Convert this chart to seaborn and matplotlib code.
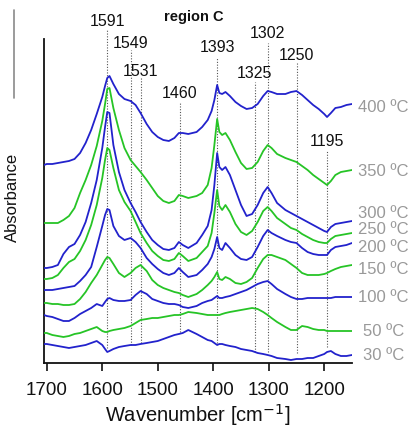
import matplotlib
matplotlib.use("Agg")
import matplotlib.pyplot as plt
import seaborn as sns
import pandas as pd
from matplotlib.lines import Line2D

# ---------------- data ----------------
wavenumber = [1705, 1700, 1690, 1680, 1670, 1660, 1650, 1640, 1630, 1620,
              1610, 1600, 1595, 1591, 1587, 1580, 1570, 1560, 1549, 1540,
              1531, 1520, 1510, 1500, 1490, 1480, 1470, 1462, 1455, 1445,
              1430, 1420, 1410, 1403, 1398, 1393, 1389, 1384, 1378, 1370,
              1360, 1350, 1340, 1330, 1320, 1310, 1302, 1295, 1285, 1270,
              1260, 1250, 1240, 1230, 1220, 1210, 1200, 1195, 1188, 1180,
              1170, 1160, 1150]

temperatures = ["30 ºC", "50 ºC", "100 ºC", "150 ºC", "200 ºC",
                "250 ºC", "300 ºC", "350 ºC", "400 ºC"]

abs_30 = [0.19, 0.19, 0.18, 0.17, 0.16, 0.15, 0.16, 0.17, 0.18, 0.20,
          0.22, 0.18, 0.14, 0.11, 0.12, 0.14, 0.16, 0.17, 0.18, 0.18,
          0.19, 0.20, 0.21, 0.22, 0.24, 0.26, 0.28, 0.29, 0.30, 0.33,
          0.29, 0.26, 0.23, 0.22, 0.20, 0.18, 0.19, 0.19, 0.18, 0.17,
          0.16, 0.14, 0.13, 0.12, 0.10, 0.09, 0.08, 0.07, 0.05, 0.04,
          0.03, 0.04, 0.04, 0.05, 0.05, 0.07, 0.09, 0.11, 0.12, 0.09,
          0.07, 0.07, 0.08]
abs_50 = [0.30, 0.30, 0.28, 0.27, 0.26, 0.27, 0.29, 0.30, 0.32, 0.34,
          0.36, 0.32, 0.31, 0.31, 0.32, 0.33, 0.34, 0.35, 0.37, 0.40,
          0.43, 0.44, 0.45, 0.45, 0.46, 0.47, 0.48, 0.48, 0.49, 0.51,
          0.50, 0.49, 0.48, 0.48, 0.48, 0.48, 0.48, 0.49, 0.50, 0.51,
          0.52, 0.53, 0.54, 0.55, 0.54, 0.51, 0.48, 0.45, 0.41, 0.36,
          0.33, 0.33, 0.37, 0.36, 0.34, 0.33, 0.33, 0.32, 0.32, 0.32,
          0.32, 0.32, 0.32]
abs_100 = [0.48, 0.47, 0.46, 0.44, 0.42, 0.42, 0.45, 0.49, 0.52, 0.55,
           0.59, 0.57, 0.61, 0.64, 0.65, 0.63, 0.62, 0.62, 0.63, 0.68,
           0.72, 0.69, 0.64, 0.62, 0.60, 0.59, 0.59, 0.58, 0.56, 0.55,
           0.57, 0.60, 0.62, 0.63, 0.65, 0.67, 0.65, 0.65, 0.66, 0.67,
           0.69, 0.71, 0.73, 0.76, 0.79, 0.81, 0.82, 0.79, 0.74, 0.69,
           0.66, 0.64, 0.64, 0.65, 0.65, 0.65, 0.65, 0.65, 0.65, 0.66,
           0.66, 0.66, 0.66]
abs_150 = [0.60, 0.60, 0.59, 0.59, 0.58, 0.58, 0.59, 0.64, 0.71, 0.80,
           0.88, 0.98, 1.03, 1.06, 1.05, 0.99, 0.90, 0.86, 0.90, 0.95,
           0.98, 0.92, 0.83, 0.78, 0.75, 0.73, 0.71, 0.70, 0.68, 0.66,
           0.69, 0.73, 0.78, 0.82, 0.86, 0.91, 0.84, 0.83, 0.86, 0.84,
           0.80, 0.79, 0.81, 0.85, 0.95, 1.04, 1.08, 1.08, 1.06, 1.03,
           0.99, 0.95, 0.90, 0.88, 0.88, 0.88, 0.89, 0.90, 0.92, 0.94,
           0.96, 0.97, 0.98]
abs_200 = [0.73, 0.73, 0.73, 0.74, 0.75, 0.76, 0.77, 0.82, 0.88, 0.96,
           1.16, 1.37, 1.48, 1.54, 1.53, 1.37, 1.27, 1.23, 1.25, 1.21,
           1.15, 1.05, 0.99, 0.94, 0.90, 0.88, 0.90, 0.95, 0.91, 0.86,
           0.88, 0.93, 0.99, 1.06, 1.14, 1.26, 1.15, 1.13, 1.20, 1.15,
           1.08, 1.04, 1.03, 1.06, 1.16, 1.27, 1.33, 1.30, 1.27, 1.23,
           1.21, 1.20, 1.15, 1.11, 1.09, 1.08, 1.08, 1.08, 1.13, 1.16,
           1.17, 1.18, 1.20]
abs_250 = [0.84, 0.84, 0.85, 0.88, 0.95, 1.01, 1.04, 1.12, 1.23, 1.38,
           1.58, 1.85, 2.03, 2.15, 2.13, 1.95, 1.73, 1.61, 1.52, 1.41,
           1.30, 1.20, 1.12, 1.07, 1.03, 1.02, 1.04, 1.10, 1.07, 1.02,
           1.05, 1.11, 1.17, 1.30, 1.50, 1.73, 1.57, 1.53, 1.58, 1.51,
           1.39, 1.31, 1.28, 1.32, 1.41, 1.52, 1.56, 1.52, 1.45, 1.39,
           1.35, 1.33, 1.29, 1.26, 1.23, 1.21, 1.20, 1.20, 1.24, 1.27,
           1.28, 1.29, 1.30]
abs_300 = [0.95, 0.95, 0.96, 0.98, 1.09, 1.16, 1.19, 1.28, 1.41, 1.60,
           1.83, 2.15, 2.36, 2.51, 2.50, 2.18, 1.91, 1.73, 1.60, 1.51,
           1.41, 1.31, 1.23, 1.18, 1.14, 1.13, 1.15, 1.21, 1.18, 1.15,
           1.20, 1.28, 1.37, 1.53, 1.78, 2.10, 1.96, 1.93, 1.96, 1.88,
           1.73, 1.58, 1.47, 1.49, 1.58, 1.70, 1.76, 1.70, 1.60, 1.53,
           1.50, 1.47, 1.44, 1.41, 1.38, 1.35, 1.32, 1.31, 1.36, 1.39,
           1.40, 1.41, 1.42]
abs_350 = [1.40, 1.40, 1.40, 1.40, 1.43, 1.47, 1.55, 1.70, 1.83, 1.98,
           2.17, 2.42, 2.59, 2.74, 2.75, 2.55, 2.33, 2.15, 2.03, 1.97,
           1.91, 1.83, 1.75, 1.67, 1.62, 1.60, 1.62, 1.68, 1.67, 1.65,
           1.67, 1.70, 1.78, 1.95, 2.18, 2.44, 2.31, 2.28, 2.30, 2.23,
           2.11, 2.00, 1.94, 1.95, 2.01, 2.12, 2.18, 2.15, 2.09, 2.05,
           2.03, 2.01, 1.97, 1.93, 1.88, 1.84, 1.80, 1.78, 1.82, 1.88,
           1.91, 1.92, 1.93]
abs_400 = [1.98, 1.99, 1.99, 2.00, 2.01, 2.02, 2.04, 2.10, 2.20, 2.33,
           2.49, 2.66, 2.77, 2.85, 2.87, 2.79, 2.69, 2.64, 2.62, 2.58,
           2.50, 2.39, 2.31, 2.26, 2.23, 2.22, 2.25, 2.30, 2.30, 2.29,
           2.31, 2.36, 2.43, 2.52, 2.63, 2.78, 2.70, 2.69, 2.71, 2.67,
           2.61, 2.57, 2.54, 2.55, 2.59, 2.67, 2.72, 2.71, 2.69, 2.69,
           2.71, 2.72, 2.68, 2.63, 2.58, 2.54, 2.49, 2.46, 2.50, 2.55,
           2.56, 2.58, 2.59]

spectra = [abs_30, abs_50, abs_100, abs_150, abs_200,
           abs_250, abs_300, abs_350, abs_400]

peak_positions = [1591, 1549, 1531, 1460, 1393, 1325, 1302, 1250, 1195]
peak_labels = ["1591", "1549", "1531", "1460", "1393", "1325", "1302", "1250", "1195"]
xtick_values = [1700, 1600, 1500, 1400, 1300, 1200]

# ---------------- layout (annotation placement) ----------------
peak_label_y = [3.42, 3.20, 2.92, 2.69, 3.15, 2.89, 3.30, 3.08, 2.21]
peak_line_top = [3.34, 3.13, 2.85, 2.61, 3.05, 2.81, 3.20, 3.00, 2.13]
peak_line_bottom = [0.15, 0.18, 0.20, 0.31, 0.20, 0.11, 0.11, 0.10, 0.16]
temp_label_y = [0.08, 0.31, 0.66, 0.93, 1.16, 1.34, 1.49, 1.91, 2.56]

BLUE = "#2222cc"
GREEN = "#26c426"

rows = []
for t, vals in zip(temperatures, spectra):
    for w, a in zip(wavenumber, vals):
        rows.append({"wavenumber": w, "absorbance": a, "temperature": t})
df = pd.DataFrame(rows)

palette = {t: (BLUE if i % 2 == 0 else GREEN) for i, t in enumerate(temperatures)}

sns.set_style("white")
plt.rcParams["font.family"] = ["Liberation Sans", "DejaVu Sans"]

fig = plt.figure(figsize=(4.09, 4.30), dpi=100)
ax = fig.add_axes([44 / 409, 67 / 430, 308 / 409, 324 / 430])

sns.lineplot(data=df, x="wavenumber", y="absorbance", hue="temperature",
             palette=palette, estimator=None, legend=False, linewidth=1.3,
             ax=ax, zorder=3)

ax.set_xlim(1705, 1150)
ax.set_ylim(0, 3.24)

# dotted peak markers and labels
for p, lab, ly, lt, lb in zip(peak_positions, peak_labels, peak_label_y,
                              peak_line_top, peak_line_bottom):
    ax.plot([p, p], [lb, lt], linestyle=(0, (1, 1.5)), color="#555555",
            linewidth=0.8, zorder=1, clip_on=False)
    ax.text(p, ly, lab, ha="center", va="center", fontsize=11.5,
            color="#111111", clip_on=False)

ax.text(0.485, 1.068, "region C", transform=ax.transAxes, ha="center",
        va="center", fontsize=10.5, fontweight="bold", color="#111111")

# temperature labels to the right
for t, ty in zip(temperatures, temp_label_y):
    xoff = 1.02 if len(t) > 5 else 1.036
    ax.text(xoff, ty, t, transform=ax.get_yaxis_transform(), ha="left",
            va="center", fontsize=12, color="#999999", clip_on=False)

# axes styling
for s in ["top", "right"]:
    ax.spines[s].set_visible(False)
ax.spines["left"].set_color("#111111")
ax.spines["bottom"].set_color("#111111")
ax.spines["left"].set_linewidth(1.3)
ax.spines["bottom"].set_linewidth(1.3)
ax.set_yticks([])
ax.set_xticks(xtick_values)
ax.set_xticklabels([str(v) for v in xtick_values])
ax.tick_params(axis="x", direction="out", length=6, width=1.2, pad=8,
               labelsize=13.5, colors="#111111", bottom=True)

ax.set_xlabel("Wavenumber [cm$^{-1}$]", fontsize=14.5, color="#111111")
ax.xaxis.set_label_coords(0.5, -0.12)
ax.set_ylabel("Absorbance", fontsize=12, color="#111111")
ax.yaxis.set_label_coords(-0.078, 0.512)

# thin grey frame fragment at the far left
fig.add_artist(Line2D([14 / 409, 14 / 409], [1 - 10 / 430, 1 - 98 / 430],
                      transform=fig.transFigure, color="#8a8a8a", linewidth=1.2))

fig.savefig("out.png", dpi=100)
